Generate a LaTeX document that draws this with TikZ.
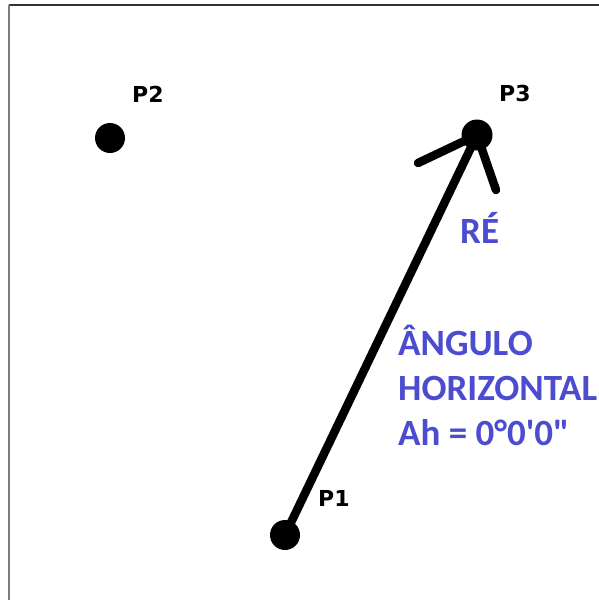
\documentclass[tikz,border=0pt]{standalone}
\usepackage{fontspec}
\setmainfont{Carlito}[Ligatures=TeXOff]
\newfontfamily\labfont{DejaVu Sans}
\definecolor{txtblue}{RGB}{76,76,208}
\definecolor{frameL}{RGB}{125,125,125}
\definecolor{frameT}{RGB}{50,50,50}
\tikzset{
  dot/.style={circle, fill=black, inner sep=0pt, minimum size=30pt},
  ptlabel/.style={anchor=base west, inner sep=0pt, font=\labfont\bfseries\fontsize{22}{26}\selectfont},
  bluetext/.style={anchor=base west, inner sep=0pt, text=txtblue, font=\bfseries\fontsize{37}{45}\selectfont},
  shaft/.style={line width=8.5pt, line cap=round, line join=round},
}
\begin{document}
\begin{tikzpicture}[x=1pt, y=-1pt]
\useasboundingbox (0,0) rectangle (598,600);
\fill[white] (0,0) rectangle (598,600);
% frame
\coordinate (fTL) at (8.5,4.5);
\coordinate (fTR) at (600,4.5);
\coordinate (fBL) at (8.5,602);
\draw[frameT, line width=2pt] (fTL) -- (fTR);
\draw[frameL, line width=2pt] (fTL) -- (fBL);
% points
\node[dot] (p1) at (285,535) {};
\node[dot] (p2) at (110,138) {};
\node[dot, minimum size=31pt] (p3) at (477,135) {};
% arrow
\coordinate (barbL) at (418,163);
\coordinate (barbR) at (496,190);
\draw[shaft] (p1.center) -- (p3.center);
\draw[shaft] (barbL) -- (p3.center) -- (barbR);
% point labels
\node[ptlabel] (l1) at (318,506) {P1};
\node[ptlabel] (l2) at (132,102) {P2};
\node[ptlabel] (l3) at (499,101) {P3};
% blue texts
\node[bluetext] (re) at (460,243) {RÉ};
\node[bluetext] (t1) at (398,355) {ÂNGULO};
\node[bluetext] (t2) at (398,400) {HORIZONTAL};
\node[bluetext] (t3) at (398,445) {Ah = 0°0'0"};
\end{tikzpicture}
\end{document}
